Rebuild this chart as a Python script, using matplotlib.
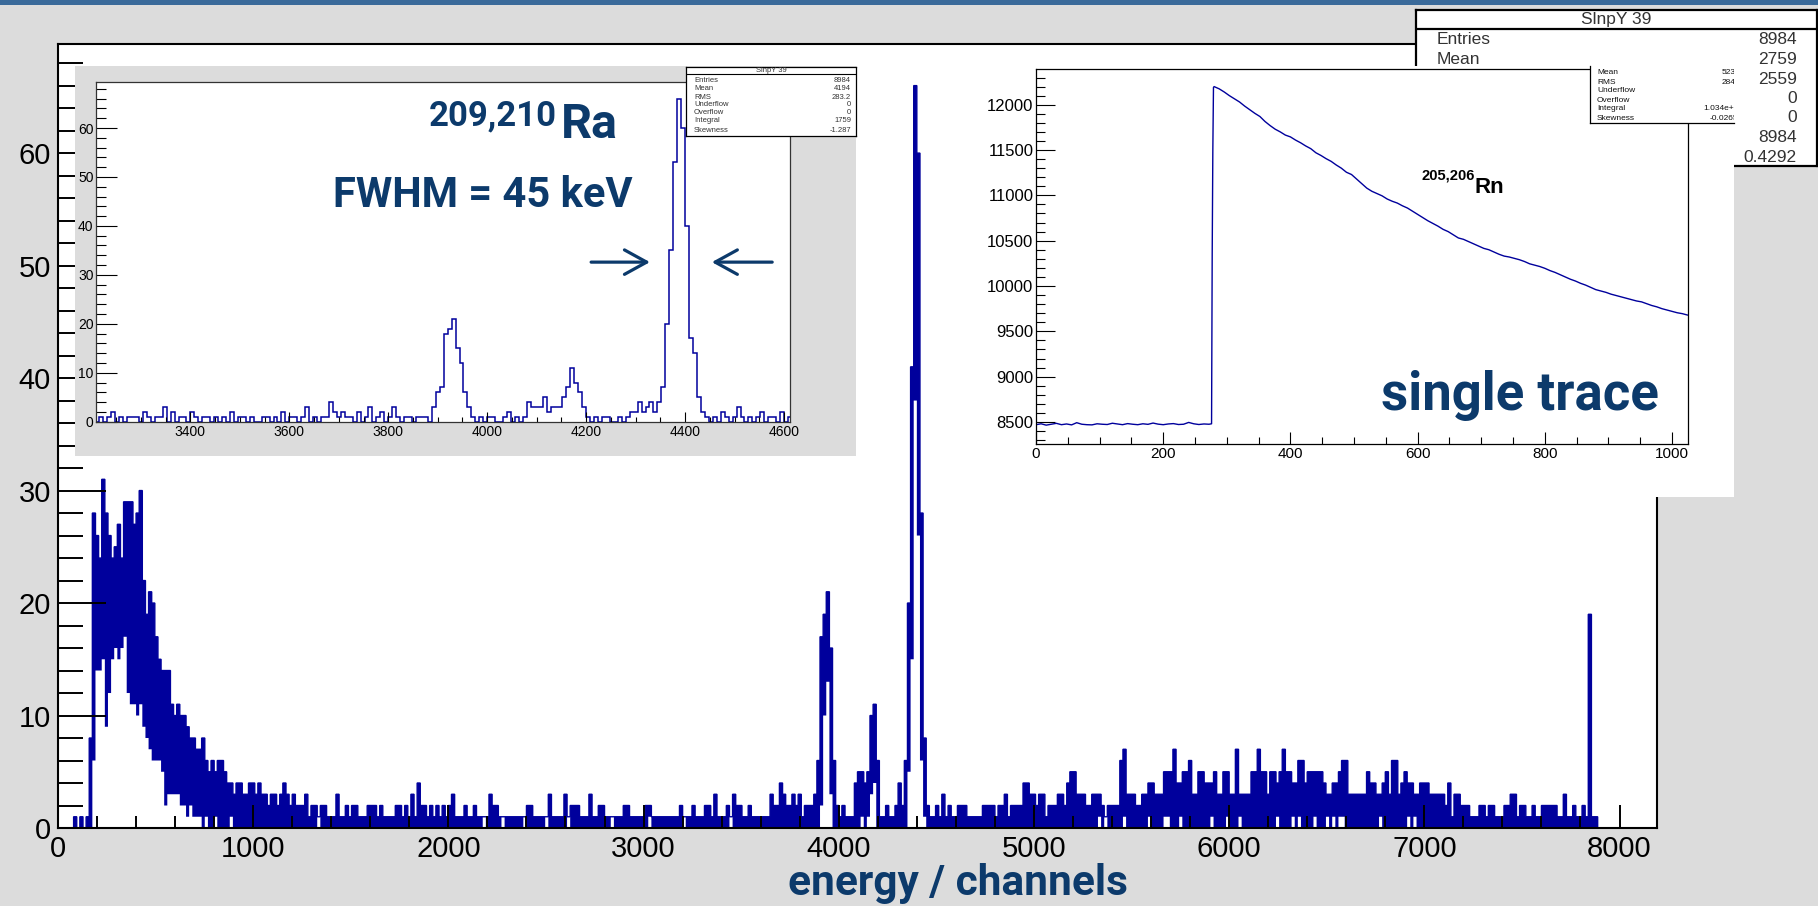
import numpy as np
import matplotlib
matplotlib.use("Agg")
import matplotlib.pyplot as plt
from matplotlib.patches import Rectangle
from matplotlib.ticker import MultipleLocator

W, H = 1818, 906
GRAY = "#dcdcdc"
HIST = "#00009c"
NAVY = "#0c3a6b"
NOTE_FONT = ["Roboto", "DejaVu Sans"]
plt.rcParams["font.family"] = ["Liberation Sans", "DejaVu Sans"]


def digits(s):
    return [int(c) for c in "".join(s.split())]


# ---------------- main spectrum: 16-channel bins, 0..8192 ----------------
# hi = highest count seen in a bin, lo = lowest (the dense ROOT drawing
# looks filled between the two)
hi_start = [0, 0, 0, 0, 0, 1, 0, 1, 0, 1]                       # bins 0-9
hi_bump = [8, 28, 26, 24, 31, 28, 26, 24, 25, 27,
           24, 29, 29, 29, 27, 28, 30, 22, 19, 21,
           20, 17, 15, 14, 14, 14, 11, 10, 11, 10,
           10, 9, 8, 8, 7, 7, 8, 6, 5, 6,
           5, 6, 6, 5, 4, 4, 3, 4, 4, 3,
           3, 4, 4, 3, 4, 3, 3, 2, 3, 3,
           2, 3, 4, 3, 2, 3, 2, 2]                               # bins 10-77
lo_bump = [0, 6, 14, 14, 15, 9, 12, 15, 16, 15,
           16, 17, 12, 11, 11, 10, 11, 9, 8, 7,
           6, 6, 6, 5, 2, 3, 3, 3, 3, 2,
           2, 1, 2, 1, 1, 1, 0, 1, 0, 0,
           1, 0, 0, 0, 0, 1, 0, 0, 0, 0,
           0, 0, 0, 0, 0, 0, 0, 0, 0, 0,
           0, 0, 0, 0, 0, 0, 0, 0]                               # bins 10-77
bg_low = digits("""2312212211 1311212211 1222121111 2212131422 1212121231
                   1121121111 3221111111 1122111113 1111312221 1131122111
                   1112211111 2211111111 1211121112 2131112132 2112111111
                   3224322323 1222""")                           # bins 78-241
peak_3930 = [3, 6, 17, 19, 21, 16, 6, 2]                         # bins 242-249
gap_a = [1, 2, 1, 1]                                             # bins 250-253
peak_4180 = [1, 4, 5, 5, 4, 5, 10, 11, 6, 1]                     # bins 254-263
gap_b = [1, 2, 1, 1, 2, 4, 2]                                    # bins 264-270
peak_4390 = [6, 20, 41, 66, 60, 28, 8]                           # bins 271-277
gap_c = [2, 1, 1, 2, 1, 3, 1, 2, 1, 1, 2]                        # bins 278-288
bg_high = digits("""2211111222 2122312222 4433233122 2332455333 2233321222
                    2673332233 4433355574 4556335544 4533553373 3335575535
                    5457554466 4555554334 4566333333 5443345366 3454433444
                    3333324133 2221112212 2111223312 2112112222 2113112112
                    1""")                                        # bins 289-489
spike_7850 = [19, 1, 1]                                          # bins 490-492
tail = [0] * 19                                                  # bins 493-511

slit_bins = [83, 136, 142, 149, 156, 163, 177, 189, 200, 215,
             333, 335, 341, 349, 354, 355, 359, 369, 374, 378, 390, 395,
             397, 402, 406, 408, 410, 411, 423, 432, 434]
peak_lo_bins = [244, 245, 246, 247, 257, 259, 260, 261, 272, 273, 274, 275, 276, 277]
peak_lo_vals = [2, 10, 13, 3, 1, 1, 3, 4, 5, 15, 38, 26, 6, 1]

hi = np.array(hi_start + hi_bump + bg_low + peak_3930 + gap_a + peak_4180 + gap_b
              + peak_4390 + gap_c + bg_high + spike_7850 + tail)
assert len(hi) == 512
lo = np.zeros(512)
lo[10:78] = lo_bump
lo[slit_bins] = 1
lo[peak_lo_bins] = peak_lo_vals
lo = np.minimum(lo, hi)
edges = np.arange(0, 8193, 16)

# ---------------- inset 1: Ra region, 8-channel bins 3208..4616 ----------------
inset_bg_a = digits("""0101201011 1021011302 0110210110 1010201101 0011010201
                       1013010114 2121102013 0120131011 01110""")
inset_peak_a = [3, 6, 7, 18, 19, 21, 15, 12, 6, 3, 1]
inset_bg_b = digits("0101100120101")
inset_peak_b = [4, 3, 3, 3, 5, 2, 3, 3, 3, 5, 7, 11, 8, 6, 3, 1]
inset_bg_c = digits("01011001012") + [2, 4, 2, 3, 4, 2, 4]
inset_peak_c = [7, 20, 35, 53, 66, 60, 40, 17, 14, 5, 2]
inset_bg_d = digits("1010210131 0101201102 01")
inset_counts = np.array(inset_bg_a + inset_peak_a + inset_bg_b + inset_peak_b
                        + inset_bg_c + inset_peak_c + inset_bg_d)
assert len(inset_counts) == 176
inset_edges = np.arange(3208, 4617, 8)

# ---------------- inset 2: single preamp trace ----------------
base_t = np.arange(0, 273, 8)
trace_base = [8470, 8480, 8465, 8475, 8485, 8470, 8478, 8468, 8492, 8475,
              8470, 8468, 8480, 8475, 8472, 8486, 8478, 8470, 8482, 8475,
              8470, 8480, 8474, 8488, 8476, 8470, 8478, 8482, 8472, 8475,
              8495, 8480, 8472, 8478, 8475]
rise_t = [276, 277, 278, 279, 280]
trace_rise = [8480, 10350, 11500, 12190, 12200]
decay_t = np.arange(288, 1025, 8)
trace_decay = [12175, 12140, 12100, 12065, 12030, 11985, 11945, 11905, 11870, 11815,
               11770, 11730, 11700, 11665, 11645, 11610, 11580, 11545, 11515, 11470,
               11440, 11405, 11375, 11335, 11300, 11255, 11230, 11180, 11130, 11080,
               11045, 11020, 10995, 10960, 10935, 10915, 10885, 10860, 10825, 10790,
               10755, 10720, 10690, 10660, 10625, 10600, 10565, 10530, 10515, 10490,
               10465, 10440, 10415, 10400, 10375, 10350, 10330, 10320, 10305, 10290,
               10270, 10245, 10230, 10215, 10195, 10170, 10150, 10125, 10100, 10075,
               10055, 10030, 10010, 9985, 9960, 9945, 9930, 9910, 9895, 9880,
               9865, 9850, 9835, 9825, 9805, 9785, 9770, 9750, 9735, 9720,
               9705, 9695, 9680]

# stat boxes
stat_labels = ["Entries", "Mean", "RMS", "Underflow", "Overflow", "Integral", "Skewness"]
stat1_vals = ["8984", "4194", "283.2", "0", "0", "1759", "-1.287"]
big_vals = ["8984", "2759", "2559", "0", "0", "8984", "0.4292"]
stat2_labels = ["Mean", "RMS", "Underflow", "Overflow", "Integral", "Skewness"]
stat2_vals = ["523.1", "284.5", "0", "0", "1.034e+07", "-0.02651"]


def frac(x0, y0, x1, y1):
    return [x0 / W, 1 - y1 / H, (x1 - x0) / W, (y1 - y0) / H]


fig = plt.figure(figsize=(W / 100, H / 100), dpi=100, facecolor=GRAY)


def box_axes(x0, y0, x1, y1, z, face="white", edge=None, lw=1.0):
    a = fig.add_axes(frac(x0, y0, x1, y1))
    a.set_zorder(z)
    a.set_facecolor(face)
    a.set_xlim(0, 1)
    a.set_ylim(0, 1)
    a.set_xticks([])
    a.set_yticks([])
    for s in a.spines.values():
        if edge is None:
            s.set_visible(False)
        else:
            s.set_color(edge)
            s.set_linewidth(lw)
    return a


def box_text(a, x, y, s, size, ha="left", color="#333333"):
    a.text(x / W, 1 - y / H, s, transform=fig.transFigure, fontsize=size,
           ha=ha, va="center", color=color, clip_on=True)


# ---------------- main histogram ----------------
ax = fig.add_axes(frac(58, 44, 1657, 828))
ax.set_zorder(1)
ax.set_facecolor("white")
ax.stairs(hi, edges, baseline=lo, fill=True, color=HIST, lw=0)
ax.stairs(hi, edges, baseline=None, color=HIST, lw=1.0)
ax.set_xlim(0, 8192)
ax.set_ylim(0, 69.7)
ax.xaxis.set_major_locator(MultipleLocator(1000))
ax.xaxis.set_minor_locator(MultipleLocator(200))
ax.yaxis.set_major_locator(MultipleLocator(10))
ax.yaxis.set_minor_locator(MultipleLocator(2))
ax.tick_params(which="both", direction="in", top=False, right=False, width=1.4)
ax.tick_params(axis="x", which="major", length=16.5, labelsize=21, pad=5)
ax.tick_params(axis="x", which="minor", length=8.5)
ax.tick_params(axis="y", which="major", length=34.5, labelsize=21, pad=5)
ax.tick_params(axis="y", which="minor", length=18)
for s in ax.spines.values():
    s.set_linewidth(1.5)

fig.text(958 / W, 1 - 895 / H, "energy / channels", family=NOTE_FONT,
         fontweight="bold", fontsize=30.5, color=NAVY, ha="center", va="baseline", zorder=10)

# ---------------- inset 1: Ra peaks ----------------
box_axes(75, 66, 856, 456, 2, face=GRAY)
ax1 = fig.add_axes(frac(96.4, 82, 790, 421.7))
ax1.set_zorder(3)
ax1.set_facecolor("white")
ax1.stairs(inset_counts, inset_edges, baseline=None, color=HIST, lw=1.1)
ax1.set_xlim(3210, 4612)
ax1.set_ylim(0, 69.4)
ax1.xaxis.set_major_locator(MultipleLocator(200))
ax1.xaxis.set_minor_locator(MultipleLocator(50))
ax1.yaxis.set_major_locator(MultipleLocator(10))
ax1.yaxis.set_minor_locator(MultipleLocator(2))
ax1.tick_params(which="both", direction="in", top=False, right=False, width=0.8)
ax1.tick_params(axis="x", which="major", length=7, labelsize=10, pad=2.5)
ax1.tick_params(axis="x", which="minor", length=3.5)
ax1.tick_params(axis="y", which="major", length=15, labelsize=10, pad=2)
ax1.tick_params(axis="y", which="minor", length=7)
for s in ax1.spines.values():
    s.set_linewidth(0.9)
    s.set_color("#333333")
arrow = dict(arrowstyle="->,head_length=1.0,head_width=0.55", color=NAVY, lw=2.3,
             shrinkA=0, shrinkB=0, mutation_scale=16)
ax1.annotate("", xy=(4329, 32.6), xytext=(4210, 32.6), arrowprops=arrow)
ax1.annotate("", xy=(4454, 32.6), xytext=(4576, 32.6), arrowprops=arrow)

fig.text(429 / W, 1 - 125 / H, "209,210", family=NOTE_FONT, fontweight="bold",
         fontsize=25, color=NAVY, va="baseline", zorder=10)
fig.text(561 / W, 1 - 138 / H, "Ra", family=NOTE_FONT, fontweight="bold",
         fontsize=35, color=NAVY, va="baseline", zorder=10)
fig.text(333 / W, 1 - 207 / H, "FWHM = 45 keV", family=NOTE_FONT, fontweight="bold",
         fontsize=30, color=NAVY, va="baseline", zorder=10)

sb1 = box_axes(686, 66.7, 856, 136, 4, edge="black", lw=0.9)
sb1.axhline((136 - 74) / (136 - 66.7), color="black", lw=0.8)
box_text(sb1, 771, 70.5, "SlnpY 39", 5.5, ha="center")
for lab, val, y in zip(stat_labels, stat1_vals, [80, 88, 97.5, 104.5, 113, 121, 130]):
    box_text(sb1, 694, y, lab, 5.5)
    box_text(sb1, 851, y, val, 5.5, ha="right")

# ---------------- big stat box (behind inset 2) ----------------
sbb = box_axes(1416, 10, 1817, 166, 5, edge="black", lw=1.6)
sbb.axhline((166 - 29) / 156, color="black", lw=1.6)
box_text(sbb, 1616, 19.5, "SlnpY 39", 12.5, ha="center")
for lab, val, y in zip(stat_labels, big_vals, [40, 59.5, 79, 98.5, 118, 137.5, 157]):
    box_text(sbb, 1437, y, lab, 12.5)
    box_text(sbb, 1797, y, val, 12.5, ha="right")

# ---------------- inset 2: single trace ----------------
box_axes(980, 66, 1734, 497, 6)
ax2 = fig.add_axes(frac(1036, 69, 1688, 444))
ax2.set_zorder(7)
ax2.set_facecolor("white")
ax2.plot(np.concatenate([base_t, rise_t, decay_t]),
         np.concatenate([trace_base, trace_rise, trace_decay]), color=HIST, lw=1.0)
ax2.set_xlim(0, 1025)
ax2.set_ylim(8257, 12394)
ax2.xaxis.set_major_locator(MultipleLocator(200))
ax2.xaxis.set_minor_locator(MultipleLocator(50))
ax2.yaxis.set_major_locator(MultipleLocator(500))
ax2.yaxis.set_minor_locator(MultipleLocator(100))
ax2.tick_params(which="both", direction="in", top=False, right=False, width=0.8)
ax2.tick_params(axis="x", which="major", length=8.6, labelsize=11, pad=2)
ax2.tick_params(axis="x", which="minor", length=4.8)
ax2.tick_params(axis="y", which="major", length=13.7, labelsize=12, pad=1.8)
ax2.tick_params(axis="y", which="minor", length=6.8)
for s in ax2.spines.values():
    s.set_linewidth(0.9)

fig.text(1421 / W, 1 - 180 / H, "205,206", fontsize=10.6, color="black",
         fontweight="bold", va="baseline", zorder=10)
fig.text(1475 / W, 1 - 193 / H, "Rn", fontsize=16, color="black",
         fontweight="bold", va="baseline", zorder=10)
fig.text(1381 / W, 1 - 410 / H, "single trace", family=NOTE_FONT, fontweight="bold",
         fontsize=38, color=NAVY, va="baseline", zorder=10)

sb2 = box_axes(1590, 66, 1734, 123, 8, edge="black", lw=0.9)
sb2.spines["top"].set_visible(False)
sb2.spines["right"].set_visible(False)
for lab, val, y in zip(stat2_labels, stat2_vals, [72, 82, 90.7, 100, 108, 119]):
    box_text(sb2, 1597, y, lab, 6, color="#111111")
    box_text(sb2, 1743, y, val, 6, ha="right", color="#111111")

# slide header strip
fig.add_artist(Rectangle((0, 1 - 5 / H), 1, 5 / H, transform=fig.transFigure,
                         facecolor="#3a6a9a", edgecolor="none", zorder=11))

fig.savefig("out.png", dpi=100, facecolor=GRAY)
